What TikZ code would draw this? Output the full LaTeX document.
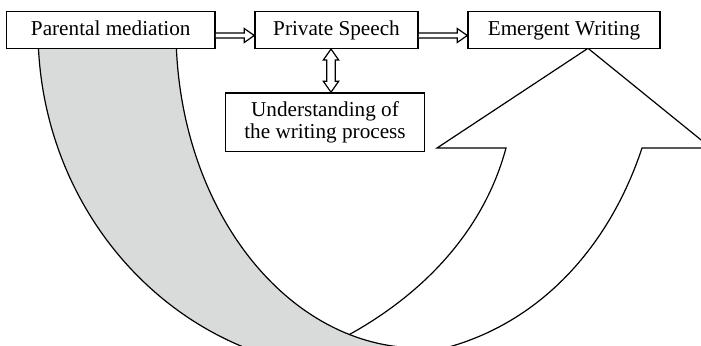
\documentclass[tikz,border=0pt]{standalone}
\usepackage{fontspec}
\setmainfont{Liberation Serif}
\usetikzlibrary{calc}
\definecolor{bandgray}{RGB}{217,219,218}
\tikzset{
  box/.style={draw, line width=0.75pt, fill=white, inner sep=0pt,
    font=\fontsize{10.6}{11.6}\selectfont, text height=7.4pt, text depth=2.4pt,
    minimum height=18.3pt},
  hollow/.style={draw, line width=0.6pt, fill=white, line join=miter},
  curve/.style={draw, line width=0.6pt}
}
\begin{document}
\begin{tikzpicture}[x=0.5pt,y=-0.5pt]
\useasboundingbox (0,0) rectangle (701,345);
\begin{scope}
\clip (0,0) rectangle (701,345);
% white curved arrow (front part, rising into Emergent Writing)
\path[curve, fill=white]
  (290,362) .. controls (400,320) and (480,245) .. (506,148)
  -- (437,148) -- (588,48.3) -- (711,148) -- (642,148)
  .. controls (605,260) and (520,345) .. (400,356)
  -- (400,380) -- (290,380) -- cycle;
% gray band (back part, descending from Parental mediation)
\path[curve, fill=bandgray]
  (38,30) .. controls (38,217.8) and (182.2,370) .. (360,370)
  -- (420,370) -- (420,348)
  .. controls (285.2,348) and (176,205.6) .. (176,30) -- cycle;
\end{scope}
% boxes
\node[box, minimum width=104.25pt] (pm) at (110.75,30) {Parental mediation};
\node[box, minimum width=81.5pt] (ps) at (336.5,30) {Private Speech};
\node[box, minimum width=96pt] (ew) at (564,30) {Emergent Writing};
\node[box, minimum width=99.5pt, minimum height=29.35pt, text height=, text depth=, align=center,
  font=\fontsize{10.6}{11.4}\selectfont] (uw) at (325,122.3) {Understanding of\\the writing process};
% hollow horizontal arrows
\draw[hollow] let \p1=($(pm.east)+(0,5.5)$), \p2=($(ps.west)+(0,5.5)$) in
  (\x1,\y1+1.25pt) -- (\x2-5pt,\y1+1.25pt) -- (\x2-5pt,\y1+3.5pt) -- (\x2,\y1)
  -- (\x2-5pt,\y1-3.5pt) -- (\x2-5pt,\y1-1.25pt) -- (\x1,\y1-1.25pt);
\draw[hollow] let \p1=($(ps.east)+(0,5.5)$), \p2=($(ew.west)+(0,5.5)$) in
  (\x1,\y1+1.25pt) -- (\x2-5pt,\y1+1.25pt) -- (\x2-5pt,\y1+3.5pt) -- (\x2,\y1)
  -- (\x2-5pt,\y1-3.5pt) -- (\x2-5pt,\y1-1.25pt) -- (\x1,\y1-1.25pt);
% hollow double-headed vertical arrow
\draw[hollow] let \p1=($(ps.south)+(-5.5,0)$), \p2=($(uw.north)+(6,0)$) in
  (\x1,\y1) -- (\x1+3.85pt,\y1-5.5pt) -- (\x1+2.15pt,\y1-5.5pt) -- (\x1+2.15pt,\y2+5.5pt)
  -- (\x1+3.85pt,\y2+5.5pt) -- (\x1,\y2) -- (\x1-3.85pt,\y2+5.5pt) -- (\x1-2.15pt,\y2+5.5pt)
  -- (\x1-2.15pt,\y1-5.5pt) -- (\x1-3.85pt,\y1-5.5pt) -- cycle;
\end{tikzpicture}
\end{document}
